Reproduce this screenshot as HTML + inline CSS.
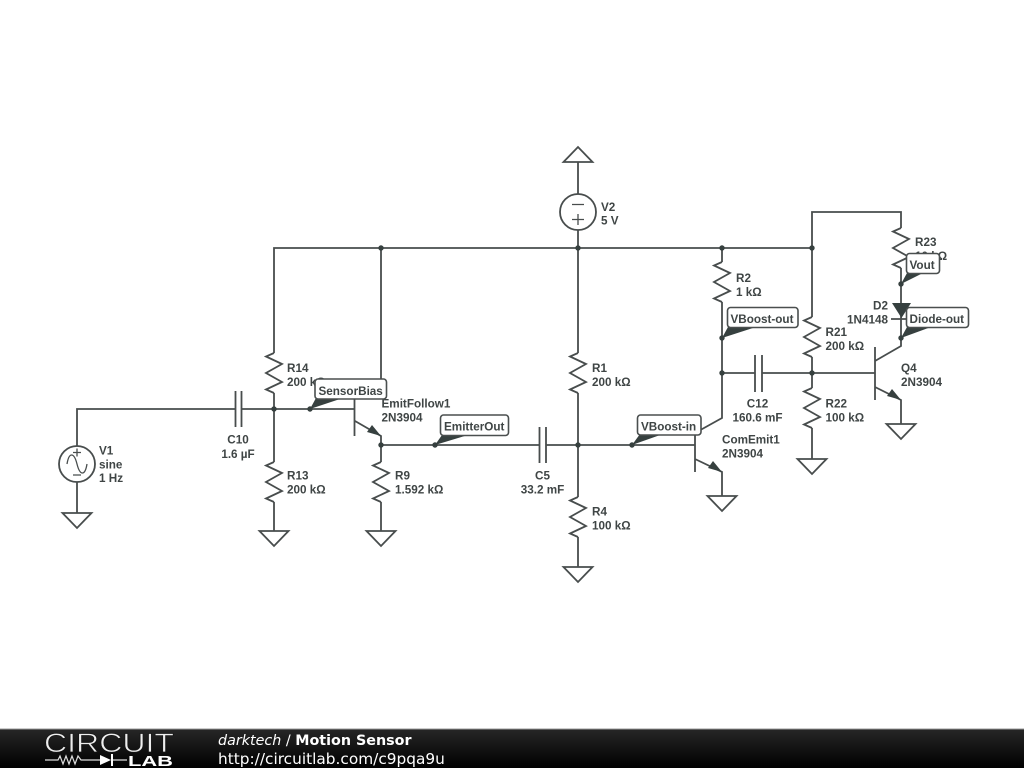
<!DOCTYPE html>
<html><head><meta charset="utf-8"><title>Motion Sensor</title>
<style>
html,body{margin:0;padding:0;background:#fff;width:1024px;height:768px;overflow:hidden}
svg{position:absolute;left:0;top:0;display:block;filter:blur(.3px)}
.w{fill:none;stroke:#484d4d;stroke-width:1.8}
.s{fill:none;stroke:#484d4d;stroke-width:1.3}
.t{font:bold 11.7px "Liberation Sans",sans-serif;fill:#3f4545}
.m{text-anchor:middle}
.b{fill:#fff;stroke:#4a4f4f;stroke-width:1.6}
.p{fill:#36403f}
</style></head><body>
<svg width="1024" height="768" viewBox="0 0 1024 768" xmlns="http://www.w3.org/2000/svg">
<defs>
<linearGradient id="fg" x1="0" y1="0" x2="0" y2="1"><stop offset="0" stop-color="#262626"/><stop offset="1" stop-color="#000"/></linearGradient>
<polyline id="z" class="w" points="0,0 -8,3.5 8,11 -8,20 8,29 -8,36.5 0,40"/>
<polygon id="g" class="w" points="-14.5,0 14.5,0 0,15"/>
</defs>
<g class="w">
<path d="M274 353V248H812M381 248V382M578 230V248M578 248V353M722 248V262M812 248V317M812 317V212H901V228"/>
<path d="M77 446V409H235.500M241.500 409H354.500M235.500 391V427M241.500 391V427"/>
<path d="M274 393V462M274 502V531M77 482V513"/>
<path d="M354.500 383V436M355 397L381 382M355 421L381 436V462M381 502V531"/>
<path d="M381 445H539.500M546 445H695M539.500 427V463M546 427V463"/>
<path d="M578 393V497M578 537V567"/>
<path d="M695 419V472M695 433L722 418V302M695 459L722 472V496"/>
<path d="M722 373H755M762 373H875M755 355V392M762 355V392"/>
<path d="M812 357V388M812 428V459"/>
<path d="M875 347V400M875 361L901 346V268M875 387L901 400V424"/>
<path d="M578 162V194"/>
<path d="M891 319H911"/>
</g>
<use href="#z" x="274" y="353"/><use href="#z" x="274" y="462"/><use href="#z" x="381" y="462"/>
<use href="#z" x="578" y="353"/><use href="#z" x="578" y="497"/><use href="#z" x="722" y="262"/>
<use href="#z" x="812" y="317"/><use href="#z" x="812" y="388"/><use href="#z" x="901" y="228"/>
<use href="#g" x="77" y="513"/><use href="#g" x="274" y="531"/><use href="#g" x="381" y="531"/>
<use href="#g" x="578" y="567"/><use href="#g" x="722" y="496"/><use href="#g" x="812" y="459"/><use href="#g" x="901" y="424"/>
<polygon class="w" points="563.500,162 592.500,162 578,147"/>
<!-- V1 -->
<circle class="w" cx="77" cy="464" r="18"/>
<path class="s" d="M67 464C69 452 74 452 77 464S85 476 87 464M73 452.500H81M77 448.500V456.500M73 475H81"/>
<!-- V2 -->
<circle class="w" cx="578" cy="212" r="18"/>
<path class="s" d="M572 204.500H584M572 219.500H584M578 214V225"/>
<!-- transistor arrows -->
<polygon class="p" points="381,436 367,432 372,425"/>
<polygon class="p" points="722,472 708,468 713,461"/>
<polygon class="p" points="901,400 887,396 892,389"/>
<!-- diode -->
<polygon class="p" points="892,303 911,303 901.500,318"/>
<!-- dots -->
<g fill="#36403f">
<circle cx="381" cy="248" r="2.700"/><circle cx="578" cy="248" r="2.700"/><circle cx="722" cy="248" r="2.700"/><circle cx="812" cy="248" r="2.700"/>
<circle cx="274" cy="409" r="2.700"/><circle cx="310" cy="409" r="2.700"/><circle cx="381" cy="445" r="2.700"/><circle cx="435" cy="445" r="2.700"/>
<circle cx="578" cy="445" r="2.700"/><circle cx="632" cy="445" r="2.700"/><circle cx="722" cy="338" r="2.700"/><circle cx="722" cy="373" r="2.700"/>
<circle cx="812" cy="373" r="2.700"/><circle cx="901" cy="284" r="2.700"/><circle cx="901" cy="338" r="2.700"/>
</g>
<!-- labels -->
<text class="t" x="99" y="454.500">V1</text><text class="t" x="99" y="468.500">sine</text><text class="t" x="99" y="482">1 Hz</text>
<text class="t m" x="238" y="443.500">C10</text><text class="t m" x="238" y="458">1.6 µF</text>
<text class="t" x="287" y="372">R14</text><text class="t" x="287" y="386">200 kΩ</text>
<text class="t" x="287" y="479.500">R13</text><text class="t" x="287" y="493.500">200 kΩ</text>
<text class="t" x="381.500" y="407.500">EmitFollow1</text><text class="t" x="381.500" y="421.500">2N3904</text>
<text class="t" x="395" y="479.500">R9</text><text class="t" x="395" y="493.500">1.592 kΩ</text>
<text class="t m" x="542.500" y="479.500">C5</text><text class="t m" x="542.500" y="493.500">33.2 mF</text>
<text class="t" x="592" y="372">R1</text><text class="t" x="592" y="386">200 kΩ</text>
<text class="t" x="592" y="515.500">R4</text><text class="t" x="592" y="529.500">100 kΩ</text>
<text class="t" x="601" y="211">V2</text><text class="t" x="601" y="224.500">5 V</text>
<text class="t" x="736" y="282">R2</text><text class="t" x="736" y="296">1 kΩ</text>
<text class="t m" x="757.500" y="407.500">C12</text><text class="t m" x="757.500" y="421.500">160.6 mF</text>
<text class="t" x="722" y="443.500">ComEmit1</text><text class="t" x="722" y="457.500">2N3904</text>
<text class="t" x="825.500" y="336">R21</text><text class="t" x="825.500" y="350">200 kΩ</text>
<text class="t" x="825.500" y="407.500">R22</text><text class="t" x="825.500" y="421.500">100 kΩ</text>
<text class="t" x="901" y="372">Q4</text><text class="t" x="901" y="386">2N3904</text>
<text class="t" x="915" y="246">R23</text><text class="t" x="915" y="260">10 kΩ</text>
<text class="t" x="888" y="309.500" text-anchor="end">D2</text><text class="t" x="888" y="323.500" text-anchor="end">1N4148</text>
<!-- callouts -->
<polygon class="p" points="310,409 316,398 343,398"/>
<rect class="b" x="315" y="379" width="71.500" height="20" rx="3"/><text class="t" x="318.500" y="395">SensorBias</text>
<polygon class="p" points="435,445 442,435 468,435"/>
<rect class="b" x="440.500" y="415" width="68" height="20.500" rx="3"/><text class="t" x="444" y="430.500">EmitterOut</text>
<polygon class="p" points="632,445 640,434 663,434"/>
<rect class="b" x="637.500" y="415" width="63.500" height="20" rx="3"/><text class="t" x="641" y="430.500">VBoost-in</text>
<polygon class="p" points="722,338 728,327 756,327"/>
<rect class="b" x="727.500" y="307.500" width="70.500" height="20" rx="3"/><text class="t" x="730.500" y="323">VBoost-out</text>
<polygon class="p" points="901,284 907,273 923,273"/>
<rect class="b" x="906.500" y="253.500" width="33" height="20" rx="3"/><text class="t" x="909.500" y="269">Vout</text>
<polygon class="p" points="901,338 907,327 931,327"/>
<rect class="b" x="906.500" y="307.500" width="62" height="20" rx="3"/><text class="t" x="909.500" y="323">Diode-out</text>
<!-- footer -->
<rect x="0" y="729" width="1024" height="39" fill="url(#fg)"/>
<rect x="0" y="728.500" width="1024" height="1" fill="#999"/>
<text x="44" y="752" textLength="130" lengthAdjust="spacingAndGlyphs" style="font:27px 'Liberation Sans',sans-serif;fill:#eee;stroke:#161616;stroke-width:.7">CIRCUIT</text>
<path d="M45 760H58L60 756 63 764 66 756 69 764 72 756 75 764 78 756 81 760H100M112 760H127" fill="none" stroke="#ddd" stroke-width="1.200"/>
<polygon points="100,755 100,765 111,760" fill="#fff"/><rect x="111" y="754" width="2" height="12" fill="#fff"/>
<text x="128" y="766" textLength="45" lengthAdjust="spacingAndGlyphs" style="font:bold 15px 'Liberation Sans',sans-serif;fill:#fff">LAB</text>
<text x="218" y="745" style="font:14.3px 'DejaVu Sans',sans-serif;fill:#fff"><tspan font-style="italic">darktech</tspan> / <tspan font-weight="bold">Motion Sensor</tspan></text>
<text x="218" y="764" style="font:15.35px 'DejaVu Sans',sans-serif;fill:#fff">http://circuitlab.com/c9pqa9u</text>
</svg>
</body></html>
